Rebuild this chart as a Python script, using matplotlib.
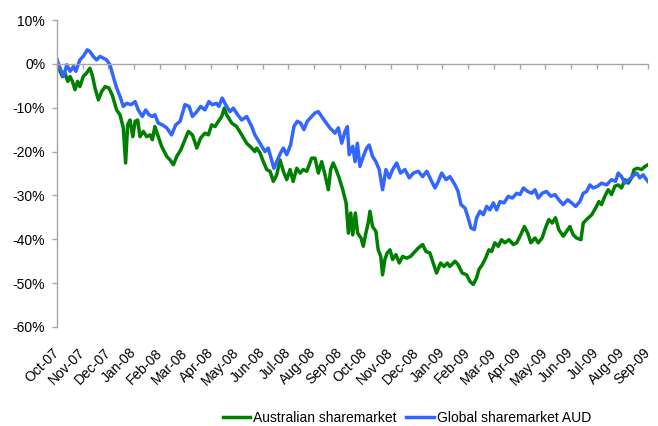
import matplotlib
matplotlib.use('Agg')
import matplotlib.pyplot as plt
from matplotlib.ticker import FixedLocator

plt.rcParams['font.family'] = ['Liberation Sans', 'DejaVu Sans']

# ---------------- data ----------------
month_labels = ['Oct-07', 'Nov-07', 'Dec-07', 'Jan-08', 'Feb-08', 'Mar-08', 'Apr-08',
                'May-08', 'Jun-08', 'Jul-08', 'Aug-08', 'Sep-08', 'Oct-08', 'Nov-08',
                'Dec-08', 'Jan-09', 'Feb-09', 'Mar-09', 'Apr-09', 'May-09', 'Jun-09',
                'Jul-09', 'Aug-09', 'Sep-09']

ytick_values = [10, 0, -10, -20, -30, -40, -50, -60]
ytick_labels = ['10%', '0%', '-10%', '-20%', '-30%', '-40%', '-50%', '-60%']

# time in months since Oct-07, cumulative return in %
aus_month = [0.00, 0.12, 0.21, 0.31, 0.42, 0.51, 0.60, 0.70, 0.80, 0.89, 1.02, 1.15, 1.28,
             1.37, 1.48, 1.61, 1.74, 1.87, 2.02, 2.15, 2.32, 2.45, 2.58, 2.67, 2.75, 2.84,
             2.95, 3.04, 3.14, 3.23, 3.36, 3.49, 3.62, 3.71, 3.81, 3.92, 4.07, 4.27, 4.40,
             4.53, 4.66, 4.82, 4.98, 5.11, 5.27, 5.44, 5.59, 5.76, 5.89, 6.02, 6.15, 6.28,
             6.41, 6.51, 6.60, 6.80, 6.99, 7.19, 7.38, 7.58, 7.70, 7.77, 7.90, 8.03, 8.16,
             8.29, 8.42, 8.55, 8.68, 8.81, 8.94, 9.07, 9.19, 9.33, 9.46, 9.58, 9.72, 9.91,
             10.04, 10.17, 10.30, 10.43, 10.56, 10.65, 10.75, 10.86, 10.98, 11.12, 11.25,
             11.34, 11.43, 11.51, 11.61, 11.70, 11.83, 11.92, 12.02, 12.11, 12.18, 12.28,
             12.41, 12.50, 12.60, 12.67, 12.76, 12.85, 12.96, 13.06, 13.19, 13.32, 13.45,
             13.61, 13.76, 13.93, 14.06, 14.23, 14.36, 14.51, 14.64, 14.77, 14.93, 15.06,
             15.19, 15.29, 15.36, 15.49, 15.61, 15.77, 15.94, 16.07, 16.20, 16.33, 16.42,
             16.55, 16.68, 16.81, 16.91, 17.04, 17.17, 17.30, 17.43, 17.59, 17.76, 17.89,
             18.02, 18.19, 18.32, 18.44, 18.60, 18.73, 18.88, 19.01, 19.14, 19.27, 19.40,
             19.53, 19.70, 19.83, 19.96, 20.09, 20.22, 20.39, 20.48, 20.61, 20.81, 20.96,
             21.09, 21.19, 21.32, 21.45, 21.58, 21.71, 21.84, 21.97, 22.10, 22.23, 22.36,
             22.46, 22.59, 22.75, 22.88, 23.00]
aus_pct = [0.9, -1.7, -2.9, -2.1, -4.0, -2.9, -4.0, -5.9, -4.0, -5.2, -2.9, -2.1, -1.0,
           -2.5, -5.5, -8.2, -6.3, -5.2, -5.5, -7.1, -10.5, -11.6, -14.6, -22.6, -13.9, -12.8,
           -16.6, -13.1, -12.8, -16.6, -15.4, -16.6, -16.2, -17.3, -14.3, -16.2, -18.8, -21.1,
           -21.9, -23.0, -21.1, -19.6, -17.3, -15.4, -16.2, -19.2, -16.9, -15.8, -16.2, -13.9,
           -14.3, -13.1, -12.0, -10.1, -11.6, -13.5, -14.3, -16.2, -18.1, -19.2, -20.0, -19.2,
           -20.3, -22.3, -24.1, -24.5, -26.8, -25.3, -21.9, -24.5, -26.4, -24.1, -26.8, -23.8,
           -24.9, -24.1, -24.5, -21.5, -21.5, -24.9, -22.3, -25.3, -28.7, -24.1, -22.6, -24.1,
           -26.0, -28.7, -31.7, -38.6, -34.0, -39.0, -34.0, -38.6, -39.7, -41.6, -38.6, -36.3,
           -33.6, -37.1, -38.2, -42.4, -43.9, -48.1, -44.6, -43.1, -42.4, -44.6, -43.5, -45.4,
           -43.9, -44.3, -43.9, -42.8, -42.0, -41.2, -42.8, -43.1, -45.4, -47.7, -45.4, -46.2,
           -45.4, -46.2, -45.8, -45.0, -45.8, -47.7, -48.1, -49.6, -50.3, -48.8, -46.9, -45.8,
           -44.3, -42.4, -42.8, -40.8, -41.6, -40.1, -40.8, -40.1, -41.2, -40.8, -39.3, -37.1,
           -38.6, -40.8, -39.7, -40.8, -39.7, -37.4, -35.5, -36.3, -35.1, -37.8, -39.3, -38.2,
           -37.1, -39.0, -39.7, -40.1, -36.3, -35.5, -34.4, -32.9, -31.4, -32.1, -30.2, -28.7,
           -29.8, -27.9, -27.6, -28.3, -26.4, -27.2, -26.0, -24.1, -23.8, -24.1, -23.4, -23.0]

glob_month = [0.00, 0.12, 0.25, 0.38, 0.51, 0.64, 0.73, 0.89, 1.02, 1.18, 1.28, 1.41, 1.54,
              1.67, 1.80, 1.93, 2.06, 2.19, 2.32, 2.45, 2.58, 2.71, 2.88, 3.04, 3.16, 3.32,
              3.45, 3.58, 3.71, 3.81, 3.94, 4.10, 4.27, 4.46, 4.62, 4.79, 4.98, 5.14, 5.27,
              5.44, 5.59, 5.76, 5.91, 6.04, 6.21, 6.30, 6.43, 6.56, 6.73, 6.86, 7.03, 7.19,
              7.38, 7.58, 7.70, 7.90, 8.09, 8.22, 8.35, 8.44, 8.55, 8.70, 8.81, 8.94, 9.09,
              9.22, 9.35, 9.48, 9.61, 9.74, 9.91, 10.04, 10.17, 10.30, 10.43, 10.62, 10.82,
              10.95, 11.08, 11.21, 11.30, 11.37, 11.51, 11.60, 11.69, 11.79, 11.92, 12.05,
              12.15, 12.28, 12.41, 12.54, 12.67, 12.80, 12.93, 13.06, 13.22, 13.37, 13.54,
              13.71, 13.87, 14.06, 14.23, 14.39, 14.58, 14.71, 14.84, 14.97, 15.14, 15.29,
              15.49, 15.61, 15.72, 15.88, 16.00, 16.11, 16.24, 16.33, 16.46, 16.59, 16.72,
              16.85, 16.98, 17.11, 17.24, 17.40, 17.56, 17.72, 17.89, 18.02, 18.15, 18.32,
              18.47, 18.60, 18.73, 18.88, 19.05, 19.22, 19.38, 19.53, 19.70, 19.87, 20.03,
              20.18, 20.35, 20.48, 20.61, 20.74, 20.87, 21.04, 21.19, 21.39, 21.58, 21.74,
              21.84, 21.97, 22.10, 22.26, 22.39, 22.56, 22.68, 22.81, 22.94, 23.00]
glob_pct = [0.9, -1.0, -2.9, -0.2, -1.7, -0.6, -1.7, 0.9, 1.7, 3.2, 2.8, 1.7, 0.9,
            1.7, 1.3, 0.9, -0.2, -2.9, -5.5, -7.4, -9.7, -9.0, -9.3, -8.6, -10.5, -12.0,
            -10.5, -11.6, -12.0, -11.6, -13.5, -13.9, -14.6, -16.2, -13.9, -13.1, -9.3, -9.7,
            -12.0, -10.9, -9.7, -10.5, -8.6, -9.3, -9.0, -9.7, -7.8, -9.3, -10.9, -10.1, -11.6,
            -12.8, -12.0, -14.3, -16.2, -18.1, -20.0, -19.2, -21.9, -23.8, -22.3, -20.3, -19.2,
            -20.7, -18.5, -14.3, -13.1, -13.5, -15.0, -13.1, -12.0, -11.2, -10.9, -12.0, -13.1,
            -14.6, -15.8, -14.6, -18.1, -15.4, -14.3, -20.7, -18.8, -22.3, -18.1, -23.4, -21.1,
            -19.2, -18.5, -21.1, -22.3, -24.1, -28.7, -24.1, -26.0, -24.1, -22.6, -24.9, -24.1,
            -26.0, -24.9, -24.5, -25.7, -24.5, -26.8, -28.3, -26.8, -24.9, -26.4, -25.7,
            -27.6, -29.1, -32.1, -32.9, -35.1, -37.4, -37.8, -35.1, -33.6, -34.4, -32.5,
            -33.3, -31.7, -33.3, -31.4, -31.7, -30.2, -30.6, -29.5, -29.8, -28.3, -29.1,
            -29.5, -28.7, -30.6, -29.5, -29.1, -30.2, -29.8, -31.0, -32.1, -31.0, -31.7,
            -32.5, -31.4, -29.5, -29.1, -27.6, -28.3, -27.9, -27.2, -27.6, -26.4, -26.8,
            -24.9, -25.7, -27.2, -26.4, -25.7, -24.9, -26.0, -25.3, -26.4, -26.8]

series_names = ['Australian sharemarket', 'Global sharemarket AUD']
series_colors = ['#008000', '#3366FF']

# ---------------- figure ----------------
W, H = 658, 426
fig = plt.figure(figsize=(W / 100, H / 100), dpi=100)
ax = fig.add_axes([57 / W, 1 - 327 / H, (648 - 57) / W, (327 - 20) / H])

ax.plot(aus_month, aus_pct, color=series_colors[0], lw=2.5, label=series_names[0],
        solid_joinstyle='round')
ax.plot(glob_month, glob_pct, color=series_colors[1], lw=2.5, label=series_names[1],
        solid_joinstyle='round')

ax.set_xlim(0, len(month_labels) - 1)
ax.set_ylim(-60, 10)

grey = '#A6A6A6'
for s in ['top', 'right']:
    ax.spines[s].set_visible(False)
ax.spines['left'].set_color(grey)
ax.spines['left'].set_linewidth(1.0)
ax.spines['bottom'].set_position(('data', 0))
ax.spines['bottom'].set_color(grey)
ax.spines['bottom'].set_linewidth(1.0)

ax.yaxis.set_major_locator(FixedLocator(ytick_values))
ax.set_yticklabels(ytick_labels)
ax.tick_params(axis='y', direction='out', length=3.5, width=1.0, color=grey,
               labelsize=10, pad=5, labelcolor='#000000')

ax.set_xticks(range(len(month_labels)))
ax.tick_params(axis='x', direction='out', length=3.5, width=1.0, color=grey,
               labelbottom=False)

sec = ax.secondary_xaxis('bottom')
sec.set_xticks(range(len(month_labels)))
sec.set_xticklabels(month_labels, rotation=45, ha='right', va='center',
                    rotation_mode='anchor', fontsize=10)
sec.tick_params(axis='x', length=0, pad=17)
sec.spines['bottom'].set_visible(False)

handles, labels = ax.get_legend_handles_labels()
fig.legend(handles, labels, loc='center', bbox_to_anchor=(407 / W, 1 - 418 / H),
           ncol=2, frameon=False, fontsize=10, handlelength=2.0, handletextpad=0.2,
           columnspacing=0.7, borderpad=0, borderaxespad=0)

fig.savefig('out.png', dpi=100)
